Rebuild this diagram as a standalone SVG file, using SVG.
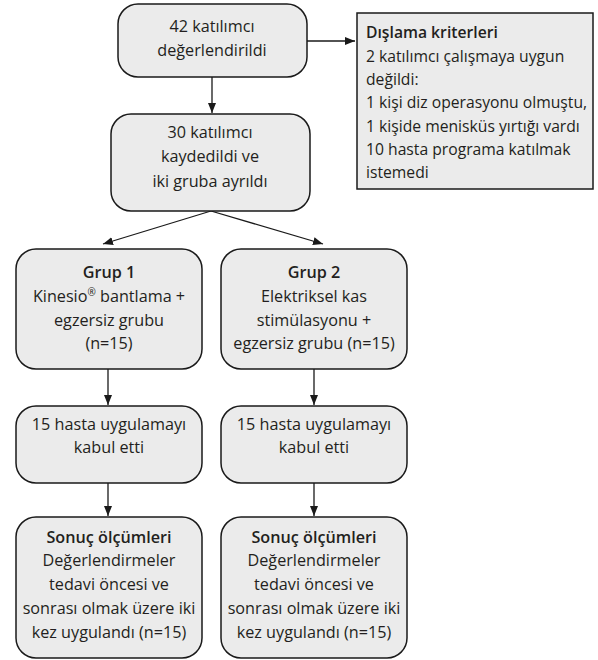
<svg xmlns="http://www.w3.org/2000/svg" width="598" height="660" viewBox="0 0 598 660">
<defs>
<marker id="ah" viewBox="0 0 10 10" refX="10" refY="5" markerWidth="10" markerHeight="10" markerUnits="userSpaceOnUse" orient="auto">
<path d="M0,1 L10,5 L0,9 Z" fill="#1a1a1a"/>
</marker>
<style>
.box{fill:#ebebeb;stroke:#1a1a1a;stroke-width:1.5}
.t{font-family:"Open Sans","Liberation Sans",sans-serif;font-size:16.2px;fill:#231f20}
.e{font-size:15.7px}
.c{text-anchor:middle}
.b{font-weight:600}
.ln{stroke:#1a1a1a;stroke-width:1.3;fill:none;marker-end:url(#ah)}
</style>
</defs>
<rect width="598" height="660" fill="#ffffff"/>
<g id="connectors">
<line class="ln" x1="212" y1="77" x2="212" y2="113"/>
<line class="ln" x1="307" y1="41" x2="355" y2="41"/>
<line class="ln" x1="211" y1="211" x2="103" y2="244"/>
<line class="ln" x1="211" y1="211" x2="323" y2="244"/>
<line class="ln" x1="108" y1="369" x2="108" y2="405"/>
<line class="ln" x1="314" y1="369" x2="314" y2="405"/>
<line class="ln" x1="108" y1="483" x2="108" y2="516"/>
<line class="ln" x1="314" y1="483" x2="314" y2="516"/>
</g>
<g id="n1">
<rect class="box" x="118" y="4" width="189" height="73" rx="20"/>
<text class="t c" x="212" y="32">42 katılımcı</text>
<text class="t c" x="212" y="56">değerlendirildi</text>
</g>
<g id="n2">
<rect class="box" x="111" y="114" width="199" height="97" rx="20"/>
<text class="t c" x="210" y="138">30 katılımcı</text>
<text class="t c" x="210" y="162">kaydedildi ve</text>
<text class="t c" x="210" y="187">iki gruba ayrıldı</text>
</g>
<g id="excl">
<rect class="box" x="357" y="13" width="236" height="176" fill="#e6e6e6"/>
<text class="t e b" x="366" y="38">Dışlama kriterleri</text>
<text class="t e" x="366" y="62">2 katılımcı çalışmaya uygun</text>
<text class="t e" x="366" y="85">değildi:</text>
<text class="t e" x="366" y="108">1 kişi diz operasyonu olmuştu,</text>
<text class="t e" x="366" y="132">1 kişide menisküs yırtığı vardı</text>
<text class="t e" x="366" y="155">10 hasta programa katılmak</text>
<text class="t e" x="366" y="178">istemedi</text>
</g>
<g id="g1">
<rect class="box" x="16" y="249" width="186" height="120" rx="20"/>
<text class="t c b" x="109" y="278">Grup 1</text>
<text class="t c" x="109" y="302">Kinesio<tspan font-size="10" dy="-6">®</tspan><tspan dy="6"> bantlama +</tspan></text>
<text class="t c" x="109" y="326">egzersiz grubu</text>
<text class="t c" x="109" y="349">(n=15)</text>
</g>
<g id="g2">
<rect class="box" x="221" y="249" width="186" height="120" rx="20"/>
<text class="t c b" x="314" y="278">Grup 2</text>
<text class="t c" x="314" y="302">Elektriksel kas</text>
<text class="t c" x="314" y="326">stimülasyonu +</text>
<text class="t c" x="314" y="349">egzersiz grubu (n=15)</text>
</g>
<g id="a1">
<rect class="box" x="16" y="406" width="186" height="77" rx="20"/>
<text class="t c" x="109" y="430">15 hasta uygulamayı</text>
<text class="t c" x="109" y="453">kabul etti</text>
</g>
<g id="a2">
<rect class="box" x="221" y="406" width="186" height="77" rx="20"/>
<text class="t c" x="314" y="430">15 hasta uygulamayı</text>
<text class="t c" x="314" y="453">kabul etti</text>
</g>
<g id="s1">
<rect class="box" x="16" y="517" width="186" height="141" rx="20"/>
<text class="t c b" x="109" y="543">Sonuç ölçümleri</text>
<text class="t c" x="109" y="566">Değerlendirmeler</text>
<text class="t c" x="109" y="590">tedavi öncesi ve</text>
<text class="t c" x="109" y="614">sonrası olmak üzere iki</text>
<text class="t c" x="109" y="638">kez uygulandı (n=15)</text>
</g>
<g id="s2">
<rect class="box" x="221" y="517" width="186" height="141" rx="20"/>
<text class="t c b" x="314" y="543">Sonuç ölçümleri</text>
<text class="t c" x="314" y="566">Değerlendirmeler</text>
<text class="t c" x="314" y="590">tedavi öncesi ve</text>
<text class="t c" x="314" y="614">sonrası olmak üzere iki</text>
<text class="t c" x="314" y="638">kez uygulandı (n=15)</text>
</g>
</svg>
